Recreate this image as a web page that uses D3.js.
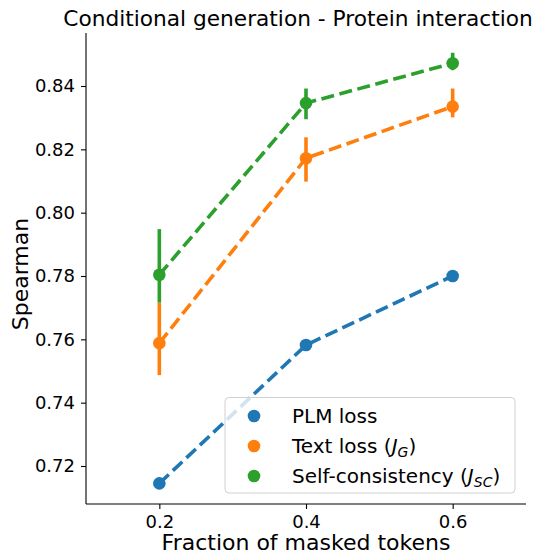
<!DOCTYPE html>
<html><head><meta charset="utf-8">
<script src="https://cdn.jsdelivr.net/npm/d3@7"></script>
<style>body{margin:0;background:#fff}svg{display:block}text{font-family:"DejaVu Sans",sans-serif;fill:#000}</style>
</head><body><svg id="c" width="540" height="556"></svg>
<script>
const fractions = [0.2, 0.4, 0.6];
const xTicks = [0.2, 0.4, 0.6];
const yTicks = [0.72, 0.74, 0.76, 0.78, 0.80, 0.82, 0.84];
const seriesNames = ["PLM loss", "Text loss", "Self-consistency"];
const plmMean = [0.7145, 0.7582, 0.7800];
const plmLow  = [0.7145, 0.7582, 0.7800];
const plmHigh = [0.7145, 0.7582, 0.7800];
const textMean = [0.7588, 0.8172, 0.8335];
const textLow  = [0.7487, 0.8098, 0.8301];
const textHigh = [0.7716, 0.8238, 0.8392];
const scMean = [0.7804, 0.8346, 0.8472];
const scLow  = [0.7716, 0.8295, 0.8450];
const scHigh = [0.7948, 0.8392, 0.8505];
const colors = ["#1f77b4", "#ff7f0e", "#2ca02c"];

const svg = d3.select("#c");
const L = 86, R = 526, T = 33, B = 504;
const x = d3.scaleLinear().domain([0.1, 0.7]).range([L, R]);
const y = d3.scaleLinear().domain([0.72, 0.84]).range([466, 86]);

const series = [
  {mean: plmMean, low: plmLow, high: plmHigh},
  {mean: textMean, low: textLow, high: textHigh},
  {mean: scMean, low: scLow, high: scHigh}
];

series.forEach((s, i) => {
  const g = svg.append("g");
  const pts = fractions.map((f, j) => [f, s.mean[j]]);
  g.append("path")
    .attr("d", d3.line().x(d => x(d[0])).y(d => y(d[1]))(pts))
    .attr("fill", "none").attr("stroke", colors[i])
    .attr("stroke-width", 3.6).attr("stroke-dasharray", "13,5.6");
  fractions.forEach((f, j) => {
    if (s.high[j] - s.low[j] > 0) {
      g.append("line").attr("x1", x(f)).attr("x2", x(f))
        .attr("y1", y(s.low[j])).attr("y2", y(s.high[j]))
        .attr("stroke", colors[i]).attr("stroke-width", 3.6);
    }
  });
  g.selectAll("circle").data(pts).join("circle")
    .attr("cx", d => x(d[0])).attr("cy", d => y(d[1])).attr("r", 6.3)
    .attr("fill", colors[i]);
});

// axes
const xAxis = svg.append("g").attr("transform", `translate(0,${B})`)
  .call(d3.axisBottom(x).tickValues(xTicks).tickFormat(d3.format(".1f")).tickSize(5).tickPadding(6).tickSizeOuter(0));
const yAxis = svg.append("g").attr("transform", `translate(${L},0)`)
  .call(d3.axisLeft(y).tickValues(yTicks).tickFormat(d3.format(".2f")).tickSize(5).tickPadding(6).tickSizeOuter(0));
xAxis.select(".domain").attr("d", `M${L},0H${R}`);
yAxis.select(".domain").attr("d", `M0,${T}V${B}`);
[xAxis, yAxis].forEach(a => {
  a.selectAll("text").attr("font-size", 18).attr("font-family", "DejaVu Sans").attr("fill", "#000");
  a.selectAll("line,path").attr("stroke", "#000").attr("stroke-width", 1.1);
});

svg.append("text").attr("x", 298).attr("y", 26).attr("text-anchor", "middle")
  .attr("font-size", 21.7).text("Conditional generation - Protein interaction");
svg.append("text").attr("x", 306).attr("y", 550).attr("text-anchor", "middle")
  .attr("font-size", 22).text("Fraction of masked tokens");
svg.append("text").attr("transform", "translate(28,274) rotate(-90)").attr("text-anchor", "middle")
  .attr("font-size", 22).text("Spearman");

// legend
const lg = svg.append("g");
lg.append("rect").attr("x", 225).attr("y", 397.5).attr("width", 290).attr("height", 95.5)
  .attr("rx", 4).attr("fill", "rgba(255,255,255,0.8)").attr("stroke", "#d0d0d0").attr("stroke-width", 1);
const rowY = [416, 446, 476];
seriesNames.forEach((n, i) => {
  lg.append("circle").attr("cx", 254).attr("cy", rowY[i]).attr("r", 6.3).attr("fill", colors[i]);
  const t = lg.append("text").attr("x", 292).attr("y", rowY[i] + 7).attr("font-size", 20);
  t.append("tspan").text(n);
  if (i === 1) {
    t.append("tspan").text(" (");
    t.append("tspan").attr("font-style", "italic").text("J");
    t.append("tspan").attr("font-size", 14).attr("font-style", "italic").attr("dy", 3.5).text("G");
    t.append("tspan").attr("dy", -3.5).text(")");
  } else if (i === 2) {
    t.append("tspan").text(" (");
    t.append("tspan").attr("font-style", "italic").text("J");
    t.append("tspan").attr("font-size", 14).attr("font-style", "italic").attr("dy", 3.5).text("SC");
    t.append("tspan").attr("dy", -3.5).text(")");
  }
});
</script></body></html>
